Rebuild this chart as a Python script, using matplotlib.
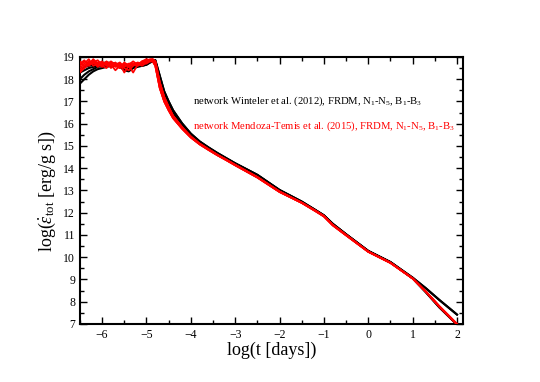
import matplotlib
matplotlib.use("Agg")
import matplotlib.pyplot as plt
from matplotlib.ticker import MultipleLocator

plt.rcParams['font.family'] = ['Liberation Serif', 'DejaVu Serif']
plt.rcParams['mathtext.fontset'] = 'custom'
plt.rcParams['mathtext.rm'] = 'Liberation Serif'
plt.rcParams['mathtext.it'] = 'Liberation Serif:italic'
plt.rcParams['mathtext.bf'] = 'Liberation Serif:bold'

# ---- data ----
head_x = [-6.5, -6.4, -6.3, -6.2, -6.1, -6.0, -5.9, -5.8, -5.7, -5.6, -5.5, -5.4,
          -5.3, -5.2, -5.1, -5.0, -4.92, -4.86]
tail_x = [-4.8, -4.7, -4.6, -4.5, -4.4, -4.2, -4.0, -3.8, -3.6, -3.4, -3.2, -3.0,
          -2.5, -2.0, -1.5, -1.2, -1.0, -0.8, -0.5, 0.0, 0.5, 1.0, 1.3, 1.6, 2.0]

black_heads = [
    [17.8, 18.0, 18.2, 18.35, 18.45, 18.5, 18.55, 18.6, 18.6, 18.55, 18.55, 18.5,
     18.55, 18.6, 18.6, 18.65, 18.75, 18.8],
    [18.0, 18.2, 18.35, 18.45, 18.55, 18.6, 18.62, 18.65, 18.62, 18.6, 18.45, 18.4,
     18.55, 18.6, 18.65, 18.7, 18.8, 18.85],
    [18.3, 18.4, 18.5, 18.55, 18.6, 18.65, 18.7, 18.7, 18.65, 18.55, 18.4, 18.35,
     18.5, 18.55, 18.6, 18.65, 18.75, 18.8],
    [18.45, 18.55, 18.6, 18.65, 18.7, 18.72, 18.75, 18.72, 18.7, 18.65, 18.6, 18.6,
     18.65, 18.7, 18.72, 18.78, 18.8, 18.85],
]
black_tail_lower = [18.8, 18.0, 17.35, 16.9, 16.5, 15.95, 15.5, 15.17, 14.9, 14.65, 14.42, 14.2,
                    13.68, 13.0, 12.48, 12.12, 11.87, 11.48, 11.02, 10.27, 9.77, 9.05, 8.42, 7.75, 6.97]
black_tail_upper = [18.85, 18.15, 17.45, 17.0, 16.6, 16.02, 15.55, 15.2, 14.93, 14.68, 14.45, 14.22,
                    13.7, 13.02, 12.5, 12.13, 11.88, 11.5, 11.03, 10.28, 9.78, 9.08, 8.6, 8.08, 7.42]
black_tail_choice = [black_tail_lower, black_tail_upper, black_tail_lower, black_tail_upper]

red_heads = [
    [18.6, 18.8, 18.7, 18.85, 18.6, 18.75, 18.7, 18.6, 18.75, 18.5, 18.65, 18.55,
     18.7, 18.6, 18.7, 18.8, 18.85, 18.85],
    [18.4, 18.6, 18.8, 18.7, 18.75, 18.6, 18.5, 18.75, 18.55, 18.7, 18.3, 18.6,
     18.65, 18.75, 18.7, 18.7, 18.8, 18.8],
    [18.3, 18.5, 18.65, 18.9, 18.7, 18.55, 18.75, 18.5, 18.7, 18.6, 18.5, 18.4,
     18.6, 18.7, 18.6, 18.75, 18.85, 18.9],
    [18.7, 18.85, 18.6, 18.75, 18.85, 18.65, 18.8, 18.65, 18.4, 18.6, 18.7, 18.65,
     18.8, 18.65, 18.8, 18.85, 18.8, 18.8],
    [18.5, 18.7, 18.9, 18.6, 18.7, 18.8, 18.6, 18.7, 18.6, 18.5, 18.75, 18.6,
     18.3, 18.65, 18.75, 18.8, 18.9, 18.9],
    [18.8, 18.6, 18.75, 18.8, 18.55, 18.7, 18.65, 18.8, 18.65, 18.75, 18.55, 18.7,
     18.7, 18.6, 18.8, 18.9, 18.85, 18.85],
]
red_tail_a = [18.8, 17.85, 17.2, 16.75, 16.35, 15.85, 15.42, 15.1, 14.85, 14.6, 14.38, 14.15,
              13.6, 12.95, 12.45, 12.1, 11.85, 11.45, 11.0, 10.25, 9.75, 9.05, 8.45, 7.8, 7.0]
red_tail_b = [18.6, 17.6, 17.0, 16.6, 16.25, 15.78, 15.38, 15.07, 14.82, 14.58, 14.36, 14.13,
              13.58, 12.93, 12.44, 12.08, 11.83, 11.43, 10.98, 10.24, 9.74, 9.04, 8.44, 7.78, 6.98]
red_tail_choice = [red_tail_a, red_tail_b, red_tail_a, red_tail_b, red_tail_a, red_tail_b]

label_black = "network Winteler et al. (2012), FRDM, N$_1$-N$_5$, B$_1$-B$_3$"
label_red = "network Mendoza-Temis et al. (2015), FRDM, N$_1$-N$_5$, B$_1$-B$_3$"

# ---- plot ----
fig = plt.figure(figsize=(5.4, 3.82), dpi=100)
ax = fig.add_axes([0.148, 0.152, 0.709, 0.699])

xs = head_x + tail_x
for h, t in zip(black_heads, black_tail_choice):
    ax.plot(xs, h + t, color='black', lw=1.5, zorder=2)
for h, t in zip(red_heads, red_tail_choice):
    ax.plot(xs, h + t, color='#ff0000', lw=1.3, zorder=3)

ax.text(-3.95, 17.02, label_black, color='black', fontsize=7.7, va='center', ha='left')
ax.text(-3.95, 15.9, label_red, color='#ff0000', fontsize=7.7, va='center', ha='left')

ax.set_xlim(-6.5, 2.13)
ax.set_ylim(7, 19)
ax.xaxis.set_major_locator(MultipleLocator(1))
ax.xaxis.set_minor_locator(MultipleLocator(0.5))
ax.yaxis.set_major_locator(MultipleLocator(1))
ax.yaxis.set_minor_locator(MultipleLocator(0.5))
ax.tick_params(which='both', direction='in', top=True, right=True, labelsize=8.5, width=1)
ax.tick_params(which='major', length=5)
ax.tick_params(which='minor', length=3)
for s in ax.spines.values():
    s.set_linewidth(1.5)

ax.set_xlabel("log(t [days])", fontsize=13, labelpad=1)
ax.set_ylabel(r"log($\dot{\varepsilon}_{\rm tot}$ [erg/g s])", fontsize=13, labelpad=4)

fig.savefig("out.png", dpi=100)
